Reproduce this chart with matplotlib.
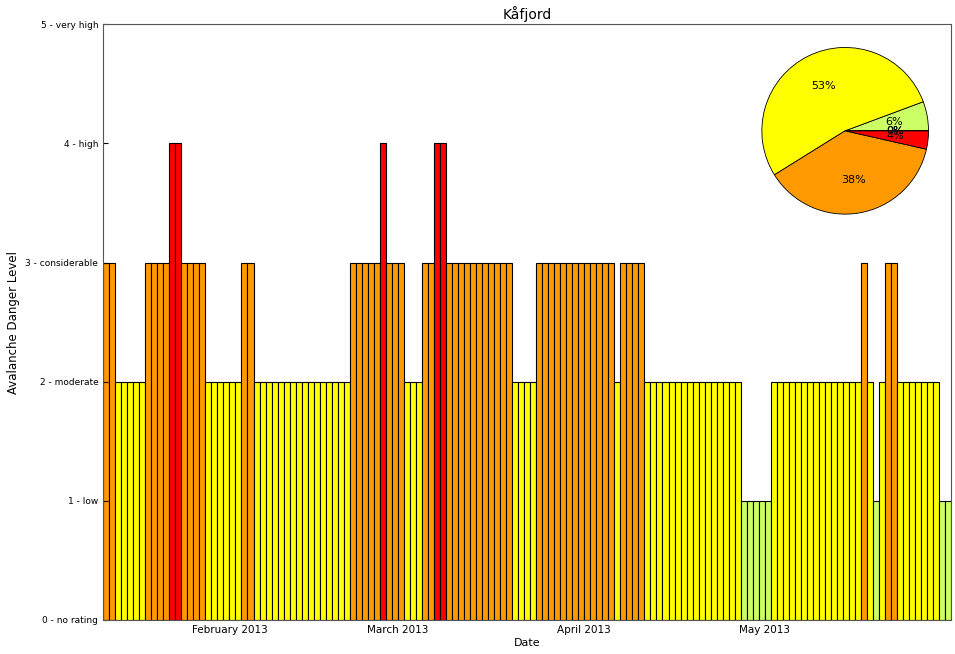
import matplotlib
matplotlib.use("Agg")
import matplotlib.pyplot as plt
import matplotlib.dates as mdates
import pandas as pd

# daily danger level, Kafjord, from 11 Jan 2013
jan = [3, 3, 2, 2, 2, 2, 2, 3, 3, 3, 3, 4, 4, 3, 3, 3, 3, 2, 2, 2, 2]
feb = [2, 2, 3, 3] + [2] * 16 + [3, 3, 3, 3, 3, 4, 3, 3]
mar = [3, 2, 2, 2, 3, 3, 4, 4] + [3] * 11 + [2, 2, 2, 2] + [3] * 8
apr = [3, 3, 3, 3, 3, 2, 3, 3, 3, 3] + [2] * 16 + [1, 1, 1, 1]
may = [1] + [2] * 15 + [3, 2, 1, 2, 3, 3] + [2] * 7 + [1, 1]
levels = jan + feb + mar + apr + may
dates = pd.date_range("2013-01-11", periods=len(levels), freq="D")

level_names = ["0 - no rating", "1 - low", "2 - moderate", "3 - considerable",
               "4 - high", "5 - very high"]
level_colors = ["#FFFFFF", "#CCFF66", "#FFFF00", "#FF9900", "#FF0000", "#000000"]

counts = [levels.count(i) for i in range(6)]

fig = plt.figure(figsize=(9.55, 6.54), dpi=100)
ax = fig.add_axes([0.108, 0.052, 0.888, 0.911])

ax.bar(dates, levels, width=1.0, align="edge",
       color=[level_colors[v] for v in levels], edgecolor="black", linewidth=0.8)

ax.set_xlim(dates[0], dates[-1] + pd.Timedelta(days=1))
ax.set_ylim(0, 5)
ax.set_yticks(range(6))
ax.set_yticklabels(level_names, fontsize=6.5)
ax.xaxis.set_major_locator(mdates.MonthLocator(bymonth=[2, 3, 4, 5], bymonthday=1))
ax.xaxis.set_major_formatter(mdates.DateFormatter("%B %Y"))
ax.tick_params(axis="x", labelsize=7.5, direction="in")
ax.tick_params(axis="y", direction="in")
for s in ax.spines.values():
    s.set_color("#555555")
ax.set_xlabel("Date", fontsize=8, labelpad=2)
ax.set_ylabel("Avalanche Danger Level", fontsize=8.5)
ax.set_title("Kåfjord", fontsize=10, pad=4)

# pie inset, top right
pax = fig.add_axes([0.796, 0.670, 0.178, 0.26])
pax.pie(counts, colors=level_colors, autopct="%1.0f%%", startangle=0,
        wedgeprops=dict(edgecolor="black", linewidth=0.6),
        textprops=dict(fontsize=8))
pax.set_xlim(-1.02, 1.02)
pax.set_ylim(-1.02, 1.02)
pax.set_aspect("equal")

fig.savefig("out.png", dpi=100)
